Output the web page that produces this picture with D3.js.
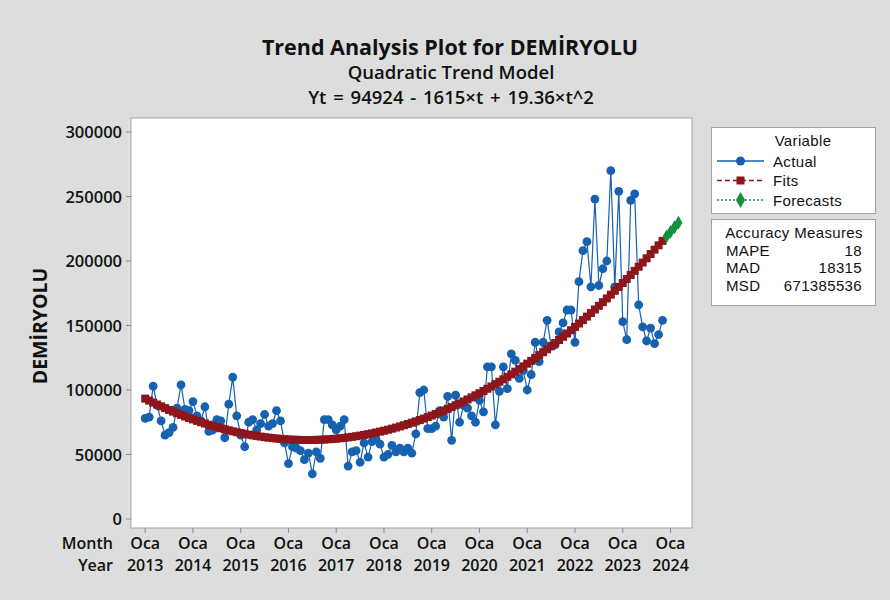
<!DOCTYPE html>
<html>
<head>
<meta charset="utf-8">
<script src="https://cdn.jsdelivr.net/npm/d3@7"></script>
<style>
  body { margin: 0; background: #dcdedd; }
  svg text { font-family: "Open Sans", "Noto Sans", sans-serif; fill: #111; }
  svg text.box { font-family: "Liberation Sans", Arial, sans-serif; font-size: 15px; letter-spacing: 0.35px; }
</style>
</head>
<body>
<script>
// monthly values, Oca 2013 .. Kas 2023
var actual = [
  78000, 79000, 103000, 88000, 76000, 65000, 67000, 71000, 86000, 104000, 85000, 84000,
  91000, 80000, 76000, 87000, 68000, 69000, 77000, 76000, 63000, 89000, 110000, 80000,
  65000, 56000, 75000, 77000, 69000, 74000, 81000, 72000, 74000, 84000, 76000, 59000,
  43000, 56000, 55000, 53000, 46000, 51000, 35000, 52000, 47000, 77000, 77000, 73000,
  69000, 72000, 77000, 41000, 52000, 53000, 44000, 59000, 48000, 60000, 62000, 58000,
  48000, 50000, 57000, 52000, 55000, 52000, 55000, 51000, 66000, 98000, 100000, 70000,
  70000, 72000, 84000, 79000, 95000, 61000, 96000, 75000, 88000, 86000, 80000, 75000,
  92000, 83000, 118000, 118000, 73000, 99000, 118000, 101000, 128000, 123000, 109000, 115000,
  100000, 112000, 137000, 122000, 137000, 154000, 134000, 135000, 145000, 152000, 162000, 162000,
  137000, 184000, 208000, 215000, 180000, 248000, 181000, 194000, 200000, 270000, 180000, 254000,
  153000, 139000, 247000, 252000, 166000, 149000, 138000, 148000, 136000, 143000, 154000
];
// Yt = b0 + b1*t + b2*t^2 (from the chart title)
var trendCoef = [94924, -1615, 19.36];
var nForecast = 4;
var yearLabels = ["2013","2014","2015","2016","2017","2018","2019","2020","2021","2022","2023","2024"];
var monthLabel = "Oca";
var yTicks = [0, 50000, 100000, 150000, 200000, 250000, 300000];
var legendNames = ["Actual", "Fits", "Forecasts"];
var accNames = ["MAPE", "MAD", "MSD"];
var accValues = ["18", "18315", "671385536"];

var width = 890, height = 600;
var blue = "#1661b0", red = "#8c161b", green = "#15903f";

var svg = d3.select("body").append("svg")
  .attr("width", width)
  .attr("height", height);

svg.append("rect").attr("width", width).attr("height", height).attr("fill", "#dcdedd");

// plot frame
var frame = {left: 131, top: 118, right: 692, bottom: 528};
svg.append("rect")
  .attr("x", frame.left).attr("y", frame.top)
  .attr("width", frame.right - frame.left).attr("height", frame.bottom - frame.top)
  .attr("fill", "#fff").attr("stroke", "#a3a3a3").attr("stroke-width", 1);

var x = d3.scaleLinear().domain([1, 133]).range([145.2, 670.5]);
var y = d3.scaleLinear().domain([0, 300000]).range([519, 132]);

function trend(t) { return trendCoef[0] + trendCoef[1] * t + trendCoef[2] * t * t; }

var actualPts = actual.map(function(v, i) { return {t: i + 1, v: v}; });
var fitPts = actual.map(function(v, i) { return {t: i + 1, v: trend(i + 1)}; });
var fcPts = d3.range(actual.length + 1, actual.length + nForecast + 1).map(function(t) { return {t: t, v: trend(t)}; });

// titles
svg.append("text").attr("x", 450).attr("y", 55).attr("text-anchor", "middle")
  .style("font-size", "21.5px").style("font-weight", "bold")
  .text("Trend Analysis Plot for DEMİRYOLU");
svg.append("text").attr("x", 451).attr("y", 79).attr("text-anchor", "middle")
  .style("font-size", "18.5px").style("font-weight", 600)
  .text("Quadratic Trend Model");
svg.append("text").attr("x", 451).attr("y", 104).attr("text-anchor", "middle")
  .style("font-size", "18.5px").style("font-weight", 600).style("word-spacing", "2px")
  .text("Yt = 94924 - 1615×t + 19.36×t^2");

// y axis
var yAxis = svg.append("g");
yTicks.forEach(function(v) {
  yAxis.append("line").attr("x1", frame.left - 5).attr("x2", frame.left)
    .attr("y1", y(v)).attr("y2", y(v)).attr("stroke", "#888");
  yAxis.append("text").attr("x", frame.left - 9).attr("y", y(v) + 6)
    .attr("text-anchor", "end").style("font-size", "16.5px").style("font-weight", 600)
    .text(v);
});
svg.append("text")
  .attr("transform", "translate(47,326) rotate(-90)")
  .attr("text-anchor", "middle")
  .style("font-size", "19.5px").style("font-weight", "bold")
  .text("DEMİRYOLU");

// x axis
var xAxis = svg.append("g");
yearLabels.forEach(function(yr, i) {
  var t = 1 + i * 12;
  xAxis.append("line").attr("x1", x(t)).attr("x2", x(t))
    .attr("y1", frame.bottom).attr("y2", frame.bottom + 5).attr("stroke", "#888");
  xAxis.append("text").attr("x", x(t)).attr("y", 549).attr("text-anchor", "middle")
    .style("font-size", "16px").style("font-weight", 600).text(monthLabel);
  xAxis.append("text").attr("x", x(t)).attr("y", 571).attr("text-anchor", "middle")
    .style("font-size", "16px").style("font-weight", 600).text(yr);
});
xAxis.append("text").attr("x", 113).attr("y", 549).attr("text-anchor", "end")
  .style("font-size", "16px").style("font-weight", 600).text("Month");
xAxis.append("text").attr("x", 113).attr("y", 571).attr("text-anchor", "end")
  .style("font-size", "16px").style("font-weight", 600).text("Year");

// actual series
var line = d3.line().x(function(d) { return x(d.t); }).y(function(d) { return y(d.v); });
svg.append("path").datum(actualPts).attr("d", line)
  .attr("fill", "none").attr("stroke", blue).attr("stroke-width", 1.2);
svg.append("g").selectAll("circle").data(actualPts).enter().append("circle")
  .attr("cx", function(d) { return x(d.t); })
  .attr("cy", function(d) { return y(d.v); })
  .attr("r", 4.4).attr("fill", blue);

// fits
svg.append("path").datum(fitPts).attr("d", line)
  .attr("fill", "none").attr("stroke", red).attr("stroke-dasharray", "5,3");
var sq = 8;
svg.append("g").selectAll("rect").data(fitPts).enter().append("rect")
  .attr("x", function(d) { return x(d.t) - sq / 2; })
  .attr("y", function(d) { return y(d.v) - sq / 2; })
  .attr("width", sq).attr("height", sq).attr("fill", red);

// forecasts
var diamond = d3.symbol().type(d3.symbolDiamond).size(55);
svg.append("path").datum(fcPts).attr("d", line)
  .attr("fill", "none").attr("stroke", green).attr("stroke-dasharray", "2,2");
svg.append("g").selectAll("path").data(fcPts).enter().append("path")
  .attr("d", diamond)
  .attr("transform", function(d) { return "translate(" + x(d.t) + "," + y(d.v) + ")"; })
  .attr("fill", green);

// legend
var lg = svg.append("g");
lg.append("rect").attr("x", 711.5).attr("y", 127.5).attr("width", 164).attr("height", 86)
  .attr("fill", "#fff").attr("stroke", "#a3a3a3");
var symColors = [blue, red, green];
var dashes = [null, "5,3", "2,2"];
lg.append("text").attr("class", "box").attr("x", 803).attr("y", 146)
  .attr("text-anchor", "middle").text("Variable");
legendNames.forEach(function(name, i) {
  var ly = 161 + i * 19.5;
  lg.append("line").attr("x1", 717).attr("x2", 764).attr("y1", ly).attr("y2", ly)
    .attr("stroke", symColors[i]).attr("stroke-width", 1.3)
    .attr("stroke-dasharray", dashes[i]);
  if (i == 0) {
    lg.append("circle").attr("cx", 740.5).attr("cy", ly).attr("r", 4.5).attr("fill", blue);
  } else if (i == 1) {
    lg.append("rect").attr("x", 736.5).attr("y", ly - 4).attr("width", 8).attr("height", 8).attr("fill", red);
  } else {
    lg.append("path").attr("d", d3.symbol().type(d3.symbolDiamond).size(75))
      .attr("transform", "translate(740.5," + ly + ")").attr("fill", green);
  }
  lg.append("text").attr("class", "box").attr("x", 773).attr("y", ly + 5.5).text(name);
});

// accuracy measures
var acc = svg.append("g");
acc.append("rect").attr("x", 711.5).attr("y", 219.5).attr("width", 164).attr("height", 86)
  .attr("fill", "#fff").attr("stroke", "#a3a3a3");
acc.append("text").attr("class", "box").attr("x", 794).attr("y", 238)
  .attr("text-anchor", "middle").text("Accuracy Measures");
accNames.forEach(function(name, i) {
  var ay = 255.6 + i * 17.5;
  acc.append("text").attr("class", "box").attr("x", 726).attr("y", ay).text(name);
  acc.append("text").attr("class", "box").attr("x", 862).attr("y", ay)
    .attr("text-anchor", "end").text(accValues[i]);
});
</script>
</body>
</html>
